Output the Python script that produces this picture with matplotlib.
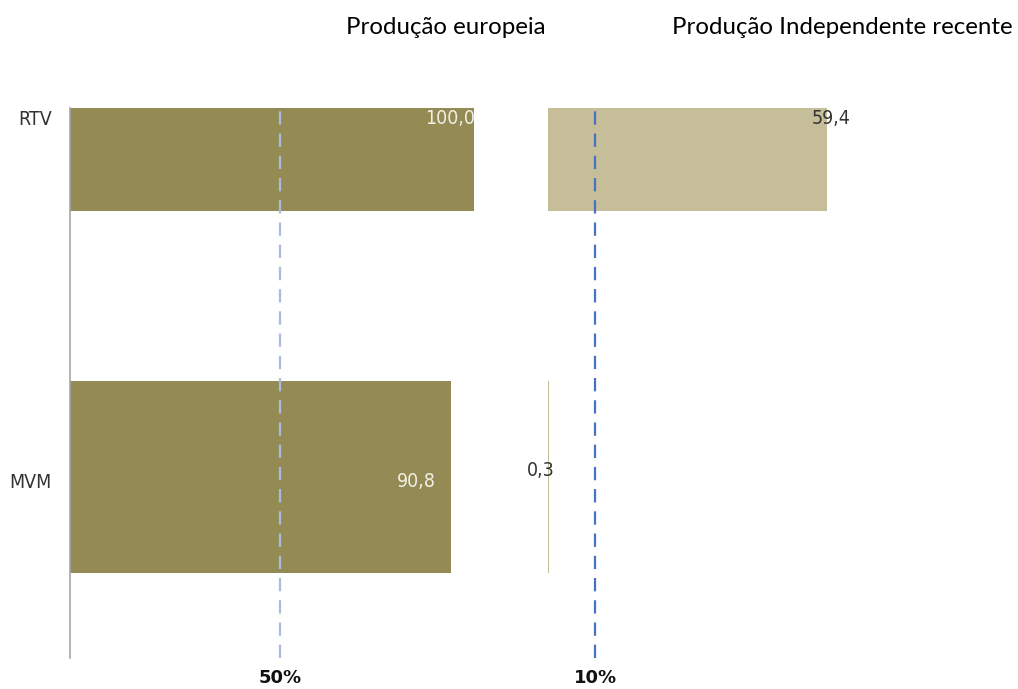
import matplotlib
matplotlib.use("Agg")
import matplotlib.pyplot as plt

# data
categories = ["RTV", "MVM"]
europeia = [100.0, 90.8]
independente = [59.4, 0.3]
ref_europeia = 50
ref_independente = 10

dark = "#938A54"
light = "#C5BE98"
narrow = dict(family="DejaVu Sans", fontstretch="condensed")

fig = plt.figure(figsize=(10.18, 6.89), dpi=100)
W, H = 1018, 689

def px_axes(x0, x1, y0, y1):
    return fig.add_axes([x0 / W, (H - y1) / H, (x1 - x0) / W, (y1 - y0) / H])

# bar vertical extents relative to category position (axis units)
bar_bottom = [-0.025, -0.273]
bar_height = [0.284, 0.529]

ax1 = px_axes(70, 474, 108, 658)
ax2 = px_axes(548, 1018, 108, 658)

ypos = list(range(len(categories)))
for ax in (ax1, ax2):
    ax.set_ylim(1.49, -0.025)
    for s in ax.spines.values():
        s.set_visible(False)
    ax.tick_params(axis="both", length=0)

# left panel
ax1.barh([y + b for y, b in zip(ypos, bar_bottom)], europeia, height=bar_height,
         align="edge", color=dark, zorder=2)
ax1.set_xlim(0, 96.19)
ax1.axvline(ref_europeia, color="#A9BCE0", lw=1.6, ls=(0, (6, 4)), zorder=3)
ax1.spines["left"].set_visible(True)
ax1.spines["left"].set_color("#A6A6A6")
ax1.spines["left"].set_linewidth(1.2)
ax1.set_yticks(ypos)
ax1.set_yticklabels(categories, fontsize=14, color="#333333", **narrow)
ax1.tick_params(axis="y", pad=13)
ax1.set_xticks([ref_europeia])
ax1.set_xticklabels(["%d%%" % ref_europeia], fontsize=13, fontweight="bold", color="#111111")
ax1.tick_params(axis="x", pad=8)
for y, v in zip(ypos, europeia):
    ax1.annotate(("%.1f" % v).replace(".", ","), (v, y), xytext=(-11, -1),
                 textcoords="offset points", ha="right", va="center",
                 fontsize=14, color="#F2F0E4",
                 annotation_clip=False, zorder=4, **narrow)

# right panel
ax2.barh([y + b for y, b in zip(ypos, bar_bottom)], independente, height=bar_height,
         align="edge", color=light, zorder=2)
ax2.set_xlim(0, 100)
ax2.axvline(ref_independente, color="#4472C4", lw=1.6, ls=(0, (6, 4)), zorder=3)
ax2.set_yticks([])
ax2.set_xticks([ref_independente])
ax2.set_xticklabels(["%d%%" % ref_independente], fontsize=13, fontweight="bold", color="#111111")
ax2.tick_params(axis="x", pad=8)
label_dx = [3, -6]
label_dy = [-1, 7]
for y, v, dx, dy in zip(ypos, independente, label_dx, label_dy):
    ax2.annotate(("%.1f" % v).replace(".", ","), (v, y), xytext=(dx, dy),
                 textcoords="offset points", ha="center", va="center",
                 fontsize=14, color="#333333",
                 annotation_clip=False, zorder=4, **narrow)

# titles
fig.text(545 / W, 1 - 27 / H, "Produção europeia", ha="right", va="center",
         family=["Lato", "DejaVu Sans"], fontsize=17.3, color="black")
fig.text(1013 / W, 1 - 27 / H, "Produção Independente recente", ha="right", va="center",
         family=["Lato", "DejaVu Sans"], fontsize=17.3, color="black")

fig.savefig("out.png", dpi=100)
